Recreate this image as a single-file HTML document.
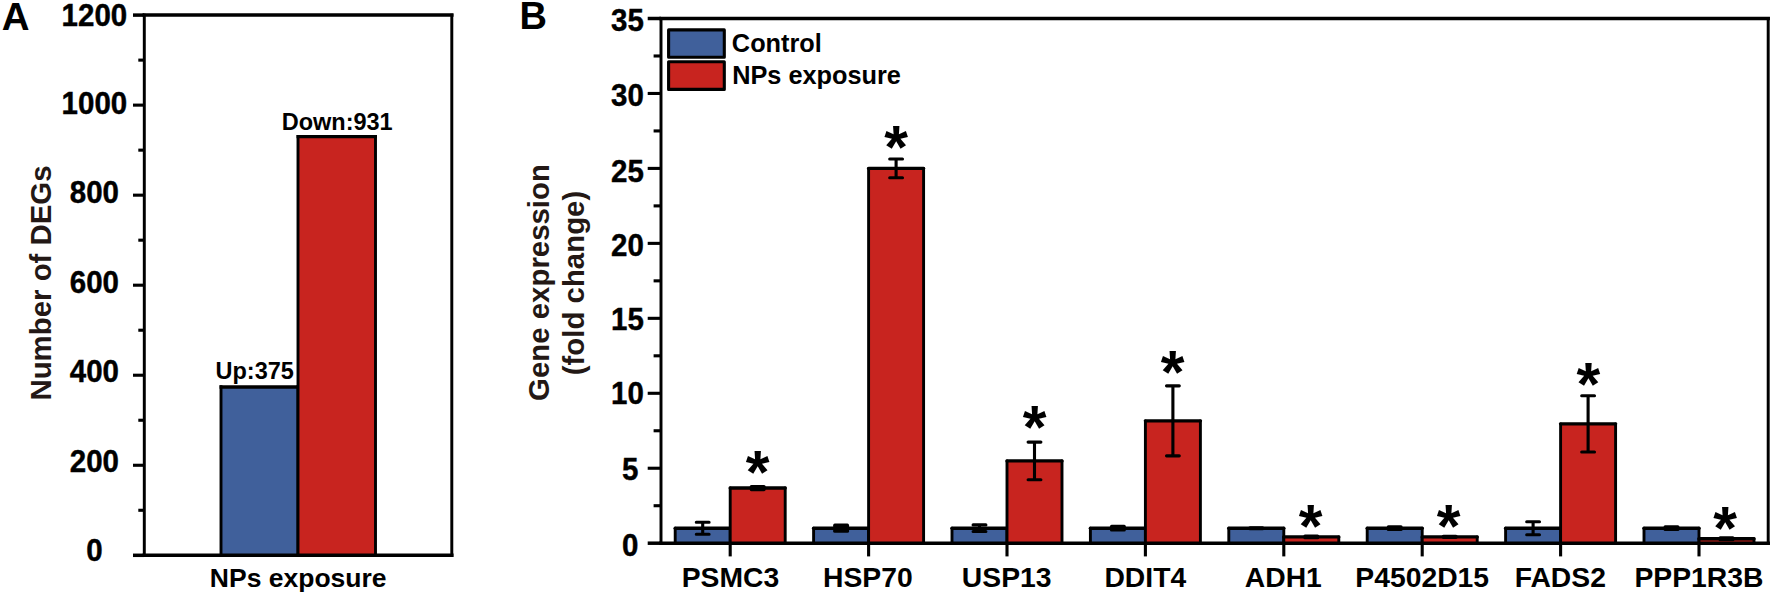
<!DOCTYPE html>
<html lang="en"><head><meta charset="utf-8"><title>Figure</title>
<style>
html,body{margin:0;padding:0;background:#fff;}
body{width:1772px;height:596px;overflow:hidden;}
svg{display:block;}
svg text{font-family:"Liberation Sans",sans-serif;font-weight:bold;}
</style></head><body>
<svg width="1772" height="596" viewBox="0 0 1772 596">
<rect width="1772" height="596" fill="#fff"/>
<rect x="221.00" y="387.00" width="77.00" height="168.30" fill="#40609b"/>
<path d="M221.00 555.30V385.30M298.00 555.30V385.30" fill="none" stroke="#000" stroke-width="2.9"/>
<path d="M219.55 387.00H299.45" fill="none" stroke="#000" stroke-width="3.4"/>
<rect x="298.00" y="136.60" width="77.50" height="418.70" fill="#c8241f"/>
<path d="M298.00 555.30V134.90M375.50 555.30V134.90" fill="none" stroke="#000" stroke-width="2.9"/>
<path d="M296.55 136.60H376.95" fill="none" stroke="#000" stroke-width="3.4"/>
<path d="M144.3 15.1V555.3M451.8 15.1V555.3" fill="none" stroke="#000" stroke-width="2.95" stroke-linecap="square"/>
<path d="M144.3 15.1H451.8M144.3 555.3H451.8" fill="none" stroke="#000" stroke-width="3.5" stroke-linecap="square"/>
<line x1="133.00" y1="555.30" x2="144.3" y2="555.30" stroke="#000" stroke-width="3.5"/>
<line x1="138.30" y1="510.28" x2="144.3" y2="510.28" stroke="#000" stroke-width="3.1"/>
<line x1="133.00" y1="465.27" x2="144.3" y2="465.27" stroke="#000" stroke-width="3.1"/>
<line x1="138.30" y1="420.25" x2="144.3" y2="420.25" stroke="#000" stroke-width="3.1"/>
<line x1="133.00" y1="375.23" x2="144.3" y2="375.23" stroke="#000" stroke-width="3.1"/>
<line x1="138.30" y1="330.22" x2="144.3" y2="330.22" stroke="#000" stroke-width="3.1"/>
<line x1="133.00" y1="285.20" x2="144.3" y2="285.20" stroke="#000" stroke-width="3.1"/>
<line x1="138.30" y1="240.18" x2="144.3" y2="240.18" stroke="#000" stroke-width="3.1"/>
<line x1="133.00" y1="195.17" x2="144.3" y2="195.17" stroke="#000" stroke-width="3.1"/>
<line x1="138.30" y1="150.15" x2="144.3" y2="150.15" stroke="#000" stroke-width="3.1"/>
<line x1="133.00" y1="105.13" x2="144.3" y2="105.13" stroke="#000" stroke-width="3.1"/>
<line x1="138.30" y1="60.12" x2="144.3" y2="60.12" stroke="#000" stroke-width="3.1"/>
<line x1="133.00" y1="15.10" x2="144.3" y2="15.10" stroke="#000" stroke-width="3.5"/>
<text transform="translate(94.40,25.91) scale(1,1.055)" font-size="29.5" text-anchor="middle" fill="#000" stroke="#000" stroke-width="0.4">1200</text>
<text transform="translate(94.40,113.61) scale(1,1.055)" font-size="29.5" text-anchor="middle" fill="#000" stroke="#000" stroke-width="0.4">1000</text>
<text transform="translate(94.40,203.11) scale(1,1.055)" font-size="29.5" text-anchor="middle" fill="#000" stroke="#000" stroke-width="0.4">800</text>
<text transform="translate(94.40,292.71) scale(1,1.055)" font-size="29.5" text-anchor="middle" fill="#000" stroke="#000" stroke-width="0.4">600</text>
<text transform="translate(94.40,382.41) scale(1,1.055)" font-size="29.5" text-anchor="middle" fill="#000" stroke="#000" stroke-width="0.4">400</text>
<text transform="translate(94.40,472.01) scale(1,1.055)" font-size="29.5" text-anchor="middle" fill="#000" stroke="#000" stroke-width="0.4">200</text>
<text transform="translate(94.40,561.41) scale(1,1.055)" font-size="29.5" text-anchor="middle" fill="#000" stroke="#000" stroke-width="0.4">0</text>
<text x="337.20" y="130.30" font-size="23.5" text-anchor="middle" fill="#000" >Down:931</text>
<text x="254.70" y="378.60" font-size="23.5" text-anchor="middle" fill="#000" >Up:375</text>
<text x="298.20" y="587.40" font-size="26.5" text-anchor="middle" fill="#000" >NPs exposure</text>
<text transform="translate(51.1,283) rotate(-90)" font-size="29.4" text-anchor="middle" fill="#231815">Number of DEGs</text>
<text x="1.64" y="29.60" font-size="38.5" text-anchor="start" fill="#000" >A</text>
<rect x="675.20" y="528.21" width="55.00" height="14.99" fill="#40609b"/>
<path d="M675.20 543.20V528.21M730.20 543.20V528.21" fill="none" stroke="#000" stroke-width="2.9" stroke-linecap="round"/>
<path d="M675.20 528.21H730.20" fill="none" stroke="#000" stroke-width="3.4" stroke-linecap="round"/>
<rect x="730.20" y="488.03" width="55.00" height="55.17" fill="#c8241f"/>
<path d="M730.20 543.20V488.03M785.20 543.20V488.03" fill="none" stroke="#000" stroke-width="2.9" stroke-linecap="round"/>
<path d="M730.20 488.03H785.20" fill="none" stroke="#000" stroke-width="3.4" stroke-linecap="round"/>
<path d="M702.70 522.21V534.21M696.30 522.21h12.8M696.30 534.21h12.8" fill="none" stroke="#000" stroke-width="3.1" stroke-linecap="round"/>
<rect x="749.75" y="484.88" width="15.90" height="6.30" rx="1.6" ry="1.6" fill="#000"/>
<line x1="730.20" y1="543.2" x2="730.20" y2="556.4000000000001" stroke="#000" stroke-width="3.1"/>
<text x="730.50" y="587.30" font-size="28.3" text-anchor="middle" fill="#000" >PSMC3</text>
<text x="745.82" y="493.02" font-size="61" text-anchor="start" fill="#000" >*</text>
<rect x="813.60" y="528.21" width="55.00" height="14.99" fill="#40609b"/>
<path d="M813.60 543.20V528.21M868.60 543.20V528.21" fill="none" stroke="#000" stroke-width="2.9" stroke-linecap="round"/>
<path d="M813.60 528.21H868.60" fill="none" stroke="#000" stroke-width="3.4" stroke-linecap="round"/>
<rect x="868.60" y="168.41" width="55.00" height="374.79" fill="#c8241f"/>
<path d="M868.60 543.20V168.41M923.60 543.20V168.41" fill="none" stroke="#000" stroke-width="2.9" stroke-linecap="round"/>
<path d="M868.60 168.41H923.60" fill="none" stroke="#000" stroke-width="3.4" stroke-linecap="round"/>
<rect x="833.15" y="523.56" width="15.90" height="9.30" rx="1.6" ry="1.6" fill="#000"/>
<path d="M896.10 159.01V177.81M889.70 159.01h12.8M889.70 177.81h12.8" fill="none" stroke="#000" stroke-width="3.1" stroke-linecap="round"/>
<line x1="868.60" y1="543.2" x2="868.60" y2="556.4000000000001" stroke="#000" stroke-width="3.1"/>
<text x="867.90" y="587.30" font-size="28.3" text-anchor="middle" fill="#000" >HSP70</text>
<text x="884.37" y="167.52" font-size="61" text-anchor="start" fill="#000" >*</text>
<rect x="952.00" y="528.21" width="55.00" height="14.99" fill="#40609b"/>
<path d="M952.00 543.20V528.21M1007.00 543.20V528.21" fill="none" stroke="#000" stroke-width="2.9" stroke-linecap="round"/>
<path d="M952.00 528.21H1007.00" fill="none" stroke="#000" stroke-width="3.4" stroke-linecap="round"/>
<rect x="1007.00" y="460.90" width="55.00" height="82.30" fill="#c8241f"/>
<path d="M1007.00 543.20V460.90M1062.00 543.20V460.90" fill="none" stroke="#000" stroke-width="2.9" stroke-linecap="round"/>
<path d="M1007.00 460.90H1062.00" fill="none" stroke="#000" stroke-width="3.4" stroke-linecap="round"/>
<path d="M979.50 524.91V531.51M973.10 524.91h12.8M973.10 531.51h12.8" fill="none" stroke="#000" stroke-width="3.1" stroke-linecap="round"/>
<path d="M1034.50 442.10V479.70M1028.10 442.10h12.8M1028.10 479.70h12.8" fill="none" stroke="#000" stroke-width="3.1" stroke-linecap="round"/>
<line x1="1007.00" y1="543.2" x2="1007.00" y2="556.4000000000001" stroke="#000" stroke-width="3.1"/>
<text x="1006.70" y="587.30" font-size="28.3" text-anchor="middle" fill="#000" >USP13</text>
<text x="1022.72" y="447.67" font-size="61" text-anchor="start" fill="#000" >*</text>
<rect x="1090.40" y="528.21" width="55.00" height="14.99" fill="#40609b"/>
<path d="M1090.40 543.20V528.21M1145.40 543.20V528.21" fill="none" stroke="#000" stroke-width="2.9" stroke-linecap="round"/>
<path d="M1090.40 528.21H1145.40" fill="none" stroke="#000" stroke-width="3.4" stroke-linecap="round"/>
<rect x="1145.40" y="420.87" width="55.00" height="122.33" fill="#c8241f"/>
<path d="M1145.40 543.20V420.87M1200.40 543.20V420.87" fill="none" stroke="#000" stroke-width="2.9" stroke-linecap="round"/>
<path d="M1145.40 420.87H1200.40" fill="none" stroke="#000" stroke-width="3.4" stroke-linecap="round"/>
<rect x="1109.95" y="524.86" width="15.90" height="6.70" rx="1.6" ry="1.6" fill="#000"/>
<path d="M1172.90 385.87V455.87M1166.50 385.87h12.8M1166.50 455.87h12.8" fill="none" stroke="#000" stroke-width="3.1" stroke-linecap="round"/>
<line x1="1145.40" y1="543.2" x2="1145.40" y2="556.4000000000001" stroke="#000" stroke-width="3.1"/>
<text x="1145.30" y="587.30" font-size="28.3" text-anchor="middle" fill="#000" >DDIT4</text>
<text x="1160.82" y="393.47" font-size="61" text-anchor="start" fill="#000" >*</text>
<rect x="1228.80" y="528.21" width="55.00" height="14.99" fill="#40609b"/>
<path d="M1228.80 543.20V528.21M1283.80 543.20V528.21" fill="none" stroke="#000" stroke-width="2.9" stroke-linecap="round"/>
<path d="M1228.80 528.21H1283.80" fill="none" stroke="#000" stroke-width="3.4" stroke-linecap="round"/>
<rect x="1283.80" y="536.90" width="55.00" height="6.30" fill="#c8241f"/>
<path d="M1283.80 543.20V536.90M1338.80 543.20V536.90" fill="none" stroke="#000" stroke-width="2.9" stroke-linecap="round"/>
<path d="M1283.80 536.90H1338.80" fill="none" stroke="#000" stroke-width="3.4" stroke-linecap="round"/>
<rect x="1248.35" y="526.16" width="15.90" height="4.10" rx="1.6" ry="1.6" fill="#000"/>
<rect x="1303.35" y="534.55" width="15.90" height="4.70" rx="1.6" ry="1.6" fill="#000"/>
<line x1="1283.80" y1="543.2" x2="1283.80" y2="556.4000000000001" stroke="#000" stroke-width="3.1"/>
<text x="1283.30" y="587.30" font-size="28.3" text-anchor="middle" fill="#000" >ADH1</text>
<text x="1298.67" y="547.42" font-size="61" text-anchor="start" fill="#000" >*</text>
<rect x="1367.20" y="528.21" width="55.00" height="14.99" fill="#40609b"/>
<path d="M1367.20 543.20V528.21M1422.20 543.20V528.21" fill="none" stroke="#000" stroke-width="2.9" stroke-linecap="round"/>
<path d="M1367.20 528.21H1422.20" fill="none" stroke="#000" stroke-width="3.4" stroke-linecap="round"/>
<rect x="1422.20" y="536.90" width="55.00" height="6.30" fill="#c8241f"/>
<path d="M1422.20 543.20V536.90M1477.20 543.20V536.90" fill="none" stroke="#000" stroke-width="2.9" stroke-linecap="round"/>
<path d="M1422.20 536.90H1477.20" fill="none" stroke="#000" stroke-width="3.4" stroke-linecap="round"/>
<rect x="1386.75" y="525.36" width="15.90" height="5.70" rx="1.6" ry="1.6" fill="#000"/>
<rect x="1441.75" y="534.85" width="15.90" height="4.10" rx="1.6" ry="1.6" fill="#000"/>
<line x1="1422.20" y1="543.2" x2="1422.20" y2="556.4000000000001" stroke="#000" stroke-width="3.1"/>
<text x="1422.20" y="587.30" font-size="28.3" text-anchor="middle" fill="#000" >P4502D15</text>
<text x="1436.77" y="547.42" font-size="61" text-anchor="start" fill="#000" >*</text>
<rect x="1505.60" y="528.21" width="55.00" height="14.99" fill="#40609b"/>
<path d="M1505.60 543.20V528.21M1560.60 543.20V528.21" fill="none" stroke="#000" stroke-width="2.9" stroke-linecap="round"/>
<path d="M1505.60 528.21H1560.60" fill="none" stroke="#000" stroke-width="3.4" stroke-linecap="round"/>
<rect x="1560.60" y="423.87" width="55.00" height="119.33" fill="#c8241f"/>
<path d="M1560.60 543.20V423.87M1615.60 543.20V423.87" fill="none" stroke="#000" stroke-width="2.9" stroke-linecap="round"/>
<path d="M1560.60 423.87H1615.60" fill="none" stroke="#000" stroke-width="3.4" stroke-linecap="round"/>
<path d="M1533.10 521.71V534.71M1526.70 521.71h12.8M1526.70 534.71h12.8" fill="none" stroke="#000" stroke-width="3.1" stroke-linecap="round"/>
<path d="M1588.10 395.77V451.97M1581.70 395.77h12.8M1581.70 451.97h12.8" fill="none" stroke="#000" stroke-width="3.1" stroke-linecap="round"/>
<line x1="1560.60" y1="543.2" x2="1560.60" y2="556.4000000000001" stroke="#000" stroke-width="3.1"/>
<text x="1560.30" y="587.30" font-size="28.3" text-anchor="middle" fill="#000" >FADS2</text>
<text x="1576.52" y="405.07" font-size="61" text-anchor="start" fill="#000" >*</text>
<rect x="1644.00" y="528.21" width="55.00" height="14.99" fill="#40609b"/>
<path d="M1644.00 543.20V528.21M1699.00 543.20V528.21" fill="none" stroke="#000" stroke-width="2.9" stroke-linecap="round"/>
<path d="M1644.00 528.21H1699.00" fill="none" stroke="#000" stroke-width="3.4" stroke-linecap="round"/>
<rect x="1699.00" y="538.70" width="55.00" height="4.50" fill="#c8241f"/>
<path d="M1699.00 543.20V538.70M1754.00 543.20V538.70" fill="none" stroke="#000" stroke-width="2.9" stroke-linecap="round"/>
<path d="M1699.00 538.70H1754.00" fill="none" stroke="#000" stroke-width="3.4" stroke-linecap="round"/>
<rect x="1663.55" y="525.36" width="15.90" height="5.70" rx="1.6" ry="1.6" fill="#000"/>
<rect x="1718.55" y="536.15" width="15.90" height="5.10" rx="1.6" ry="1.6" fill="#000"/>
<line x1="1699.00" y1="543.2" x2="1699.00" y2="556.4000000000001" stroke="#000" stroke-width="3.1"/>
<text x="1698.90" y="587.30" font-size="28.3" text-anchor="middle" fill="#000" >PPP1R3B</text>
<text x="1713.22" y="548.92" font-size="61" text-anchor="start" fill="#000" >*</text>
<path d="M661.0 18.5V543.2M1768.2 18.5V543.2" fill="none" stroke="#000" stroke-width="2.95" stroke-linecap="square"/>
<path d="M661.0 18.5H1768.2M661.0 543.2H1768.2" fill="none" stroke="#000" stroke-width="3.5" stroke-linecap="square"/>
<line x1="647.70" y1="543.20" x2="661.0" y2="543.20" stroke="#000" stroke-width="3.5"/>
<line x1="653.60" y1="505.72" x2="661.0" y2="505.72" stroke="#000" stroke-width="3.1"/>
<line x1="647.70" y1="468.24" x2="661.0" y2="468.24" stroke="#000" stroke-width="3.1"/>
<line x1="653.60" y1="430.76" x2="661.0" y2="430.76" stroke="#000" stroke-width="3.1"/>
<line x1="647.70" y1="393.29" x2="661.0" y2="393.29" stroke="#000" stroke-width="3.1"/>
<line x1="653.60" y1="355.81" x2="661.0" y2="355.81" stroke="#000" stroke-width="3.1"/>
<line x1="647.70" y1="318.33" x2="661.0" y2="318.33" stroke="#000" stroke-width="3.1"/>
<line x1="653.60" y1="280.85" x2="661.0" y2="280.85" stroke="#000" stroke-width="3.1"/>
<line x1="647.70" y1="243.37" x2="661.0" y2="243.37" stroke="#000" stroke-width="3.1"/>
<line x1="653.60" y1="205.89" x2="661.0" y2="205.89" stroke="#000" stroke-width="3.1"/>
<line x1="647.70" y1="168.41" x2="661.0" y2="168.41" stroke="#000" stroke-width="3.1"/>
<line x1="653.60" y1="130.94" x2="661.0" y2="130.94" stroke="#000" stroke-width="3.1"/>
<line x1="647.70" y1="93.46" x2="661.0" y2="93.46" stroke="#000" stroke-width="3.1"/>
<line x1="653.60" y1="55.98" x2="661.0" y2="55.98" stroke="#000" stroke-width="3.1"/>
<line x1="647.70" y1="18.50" x2="661.0" y2="18.50" stroke="#000" stroke-width="3.5"/>
<text transform="translate(627.50,31.46) scale(1,1.055)" font-size="29.5" text-anchor="middle" fill="#000" stroke="#000" stroke-width="0.4">35</text>
<text transform="translate(627.50,106.01) scale(1,1.055)" font-size="29.5" text-anchor="middle" fill="#000" stroke="#000" stroke-width="0.4">30</text>
<text transform="translate(627.50,181.91) scale(1,1.055)" font-size="29.5" text-anchor="middle" fill="#000" stroke="#000" stroke-width="0.4">25</text>
<text transform="translate(627.50,255.91) scale(1,1.055)" font-size="29.5" text-anchor="middle" fill="#000" stroke="#000" stroke-width="0.4">20</text>
<text transform="translate(627.50,329.91) scale(1,1.055)" font-size="29.5" text-anchor="middle" fill="#000" stroke="#000" stroke-width="0.4">15</text>
<text transform="translate(627.50,403.81) scale(1,1.055)" font-size="29.5" text-anchor="middle" fill="#000" stroke="#000" stroke-width="0.4">10</text>
<text transform="translate(630.20,479.61) scale(1,1.055)" font-size="29.5" text-anchor="middle" fill="#000" stroke="#000" stroke-width="0.4">5</text>
<text transform="translate(630.20,555.71) scale(1,1.055)" font-size="29.5" text-anchor="middle" fill="#000" stroke="#000" stroke-width="0.4">0</text>
<rect x="668.6" y="29.9" width="55.7" height="27.4" fill="#40609b" stroke="#000" stroke-width="3.1" stroke-linejoin="round"/>
<rect x="668.6" y="61.8" width="55.7" height="27.6" fill="#c8241f" stroke="#000" stroke-width="3.1" stroke-linejoin="round"/>
<text x="731.86" y="52.00" font-size="25.3" text-anchor="start" fill="#000" >Control</text>
<text x="732.20" y="83.60" font-size="25.3" text-anchor="start" fill="#000" >NPs exposure</text>
<text transform="translate(549.0,282.5) rotate(-90)" font-size="29.4" text-anchor="middle" fill="#231815">Gene expression</text>
<text transform="translate(583.7,283) rotate(-90)" font-size="29.4" text-anchor="middle" fill="#231815">(fold change)</text>
<text x="519.46" y="29.20" font-size="38" text-anchor="start" fill="#000" >B</text>
</svg>
</body></html>
